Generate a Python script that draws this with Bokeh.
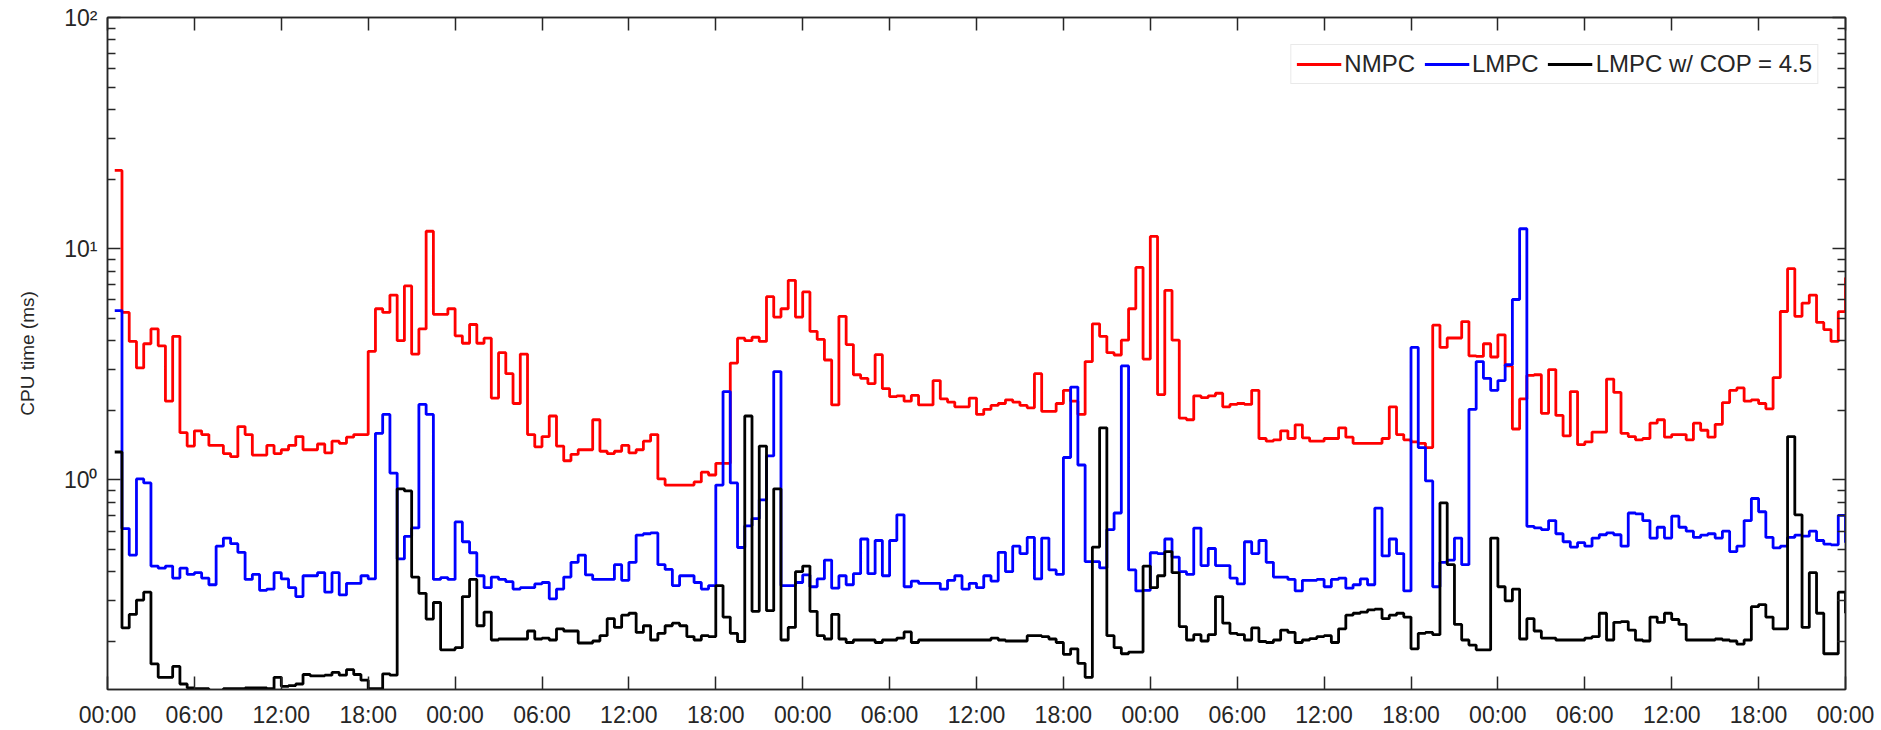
from bokeh.plotting import figure
from bokeh.models import FixedTicker, LogAxis, LinearAxis, Legend, LegendItem
from bokeh.embed import file_html
from bokeh.resources import INLINE

# ---- data: half-hour samples over five days ----
hours = [0.5 * k for k in range(1, 241)]

nmpc = [21.8, 5.3, 3.97, 3.05, 3.88, 4.5, 3.8, 2.19, 4.18, 1.6,
        1.40, 1.63, 1.57, 1.41, 1.41, 1.30, 1.26, 1.70, 1.57, 1.28,
        1.28, 1.41, 1.30, 1.35, 1.41, 1.54, 1.35, 1.35, 1.43, 1.31,
        1.47, 1.44, 1.53, 1.57, 1.57, 3.6, 5.5, 5.3, 6.3, 4.0,
        6.9, 3.5, 4.5, 11.9, 5.2, 5.2, 5.5, 4.2, 3.9, 4.7,
        3.9, 4.1, 2.26, 3.55, 2.88, 2.14, 3.5, 1.57, 1.39, 1.54,
        1.89, 1.40, 1.21, 1.29, 1.35, 1.35, 1.82, 1.33, 1.30, 1.33,
        1.41, 1.31, 1.35, 1.47, 1.57, 1.01, 0.95, 0.95, 0.95, 0.95,
        0.98, 1.08, 1.05, 1.18, 1.18, 3.2, 4.1, 4.0, 4.14, 3.97,
        6.2, 5.06, 5.5, 7.3, 5.06, 6.5, 4.39, 4.05, 3.3, 2.11,
        5.1, 3.85, 2.85, 2.75, 2.61, 3.48, 2.48, 2.29, 2.31, 2.19,
        2.32, 2.11, 2.11, 2.69, 2.24, 2.17, 2.07, 2.07, 2.26, 1.92,
        2.02, 2.1, 2.14, 2.22, 2.17, 2.1, 2.05, 2.88, 1.98, 1.98,
        2.14, 2.44, 2.19, 1.92, 3.25, 4.73, 4.18, 3.55, 3.47, 4.02,
        5.5, 8.3, 3.33, 11.3, 2.34, 6.6, 4.02, 1.85, 1.82, 2.31,
        2.27, 2.31, 2.37, 2.07, 2.12, 2.14, 2.12, 2.44, 1.51, 1.47,
        1.49, 1.63, 1.51, 1.73, 1.52, 1.47, 1.47, 1.51, 1.51, 1.68,
        1.53, 1.44, 1.44, 1.44, 1.44, 1.51, 2.07, 1.57, 1.49, 1.46,
        1.44, 1.38, 4.67, 3.74, 4.11, 4.11, 4.84, 3.44, 3.42, 3.88,
        3.4, 4.24, 3.11, 1.66, 2.24, 2.83, 2.85, 1.94, 3.0, 1.9,
        1.55, 2.41, 1.42, 1.46, 1.61, 1.61, 2.73, 2.39, 1.59, 1.54,
        1.49, 1.51, 1.76, 1.82, 1.53, 1.57, 1.57, 1.49, 1.76, 1.64,
        1.53, 1.74, 2.16, 2.44, 2.5, 2.19, 2.22, 2.14, 2.03, 2.77,
        5.35, 8.2, 5.1, 5.82, 6.3, 4.8, 4.47, 3.97, 5.34, 7.5]

lmpc = [5.4, 0.616, 0.473, 1.01, 0.97, 0.424, 0.415, 0.424, 0.376, 0.415,
        0.39, 0.397, 0.376, 0.352, 0.517, 0.56, 0.53, 0.486, 0.371, 0.39,
        0.333, 0.337, 0.397, 0.373, 0.342, 0.313, 0.385, 0.385, 0.397, 0.327,
        0.397, 0.318, 0.357, 0.357, 0.385, 0.373, 1.59, 1.92, 1.07, 0.455,
        0.57, 0.62, 2.12, 1.92, 0.371, 0.378, 0.371, 0.658, 0.54, 0.484,
        0.385, 0.342, 0.38, 0.371, 0.363, 0.337, 0.342, 0.342, 0.355, 0.36,
        0.306, 0.337, 0.38, 0.44, 0.473, 0.388, 0.371, 0.371, 0.371, 0.43,
        0.368, 0.44, 0.577, 0.585, 0.59, 0.43, 0.41, 0.349, 0.385, 0.385,
        0.36, 0.337, 0.349, 0.95, 2.41, 0.97, 0.51, 0.633, 0.68, 0.82,
        1.27, 2.94, 0.349, 0.349, 0.36, 0.388, 0.345, 0.373, 0.45, 0.34,
        0.385, 0.352, 0.393, 0.555, 0.393, 0.547, 0.385, 0.547, 0.706, 0.345,
        0.365, 0.357, 0.357, 0.357, 0.337, 0.368, 0.385, 0.337, 0.357, 0.342,
        0.385, 0.365, 0.486, 0.401, 0.517, 0.48, 0.564, 0.373, 0.56, 0.408,
        0.39, 1.25, 2.52, 1.16, 0.443, 0.443, 0.416, 0.61, 0.719, 3.11,
        0.408, 0.331, 0.333, 0.484, 0.48, 0.555, 0.463, 0.401, 0.39, 0.619,
        0.426, 0.505, 0.426, 0.426, 0.376, 0.355, 0.54, 0.48, 0.547, 0.44,
        0.38, 0.38, 0.371, 0.331, 0.368, 0.368, 0.371, 0.345, 0.371, 0.376,
        0.34, 0.352, 0.373, 0.352, 0.755, 0.469, 0.555, 0.48, 0.331, 3.74,
        1.38, 0.99, 0.345, 0.44, 0.45, 0.56, 0.43, 2.02, 3.25, 2.75,
        2.44, 2.69, 3.15, 6.03, 12.2, 0.63, 0.62, 0.61, 0.667, 0.585,
        0.54, 0.512, 0.535, 0.517, 0.56, 0.579, 0.59, 0.579, 0.517, 0.719,
        0.713, 0.667, 0.56, 0.624, 0.56, 0.697, 0.624, 0.6, 0.564, 0.577,
        0.585, 0.56, 0.6, 0.49, 0.517, 0.667, 0.831, 0.728, 0.564, 0.508,
        0.517, 0.564, 0.577, 0.571, 0.6, 0.547, 0.528, 0.524, 0.703, 0.535]

lmpc_cop = [1.32, 0.229, 0.262, 0.302, 0.327, 0.160, 0.140, 0.140, 0.156, 0.131,
            0.126, 0.125, 0.125, 0.123, 0.123, 0.125, 0.125, 0.125, 0.126, 0.126,
            0.126, 0.125, 0.140, 0.128, 0.129, 0.131, 0.144, 0.142, 0.142, 0.143,
            0.147, 0.143, 0.151, 0.144, 0.136, 0.125, 0.125, 0.145, 0.143, 0.915,
            0.896, 0.38, 0.323, 0.25, 0.295, 0.184, 0.184, 0.188, 0.313, 0.371,
            0.234, 0.268, 0.203, 0.205, 0.205, 0.205, 0.205, 0.222, 0.205, 0.207,
            0.203, 0.227, 0.222, 0.222, 0.197, 0.197, 0.201, 0.212, 0.251, 0.23,
            0.26, 0.265, 0.219, 0.234, 0.203, 0.217, 0.234, 0.24, 0.234, 0.21,
            0.203, 0.212, 0.21, 0.349, 0.255, 0.217, 0.2, 1.89, 0.27, 1.40,
            0.272, 0.915, 0.203, 0.23, 0.401, 0.424, 0.27, 0.212, 0.205, 0.262,
            0.205, 0.198, 0.203, 0.203, 0.203, 0.198, 0.203, 0.203, 0.207, 0.22,
            0.198, 0.203, 0.203, 0.203, 0.203, 0.203, 0.203, 0.203, 0.203, 0.203,
            0.203, 0.207, 0.203, 0.201, 0.201, 0.201, 0.212, 0.212, 0.21, 0.205,
            0.198, 0.176, 0.186, 0.161, 0.14, 0.512, 1.68, 0.212, 0.188, 0.177,
            0.18, 0.18, 0.424, 0.342, 0.385, 0.49, 0.397, 0.232, 0.203, 0.214,
            0.201, 0.214, 0.313, 0.24, 0.217, 0.214, 0.203, 0.229, 0.2, 0.198,
            0.203, 0.224, 0.219, 0.198, 0.203, 0.206, 0.21, 0.212, 0.198, 0.227,
            0.26, 0.265, 0.268, 0.274, 0.276, 0.251, 0.26, 0.265, 0.255, 0.186,
            0.217, 0.219, 0.214, 0.795, 0.43, 0.237, 0.203, 0.193, 0.184, 0.184,
            0.56, 0.345, 0.3, 0.337, 0.205, 0.251, 0.222, 0.207, 0.207, 0.203,
            0.203, 0.203, 0.203, 0.207, 0.21, 0.265, 0.203, 0.242, 0.244, 0.224,
            0.203, 0.201, 0.255, 0.242, 0.265, 0.249, 0.237, 0.203, 0.203, 0.203,
            0.203, 0.205, 0.203, 0.201, 0.195, 0.203, 0.283, 0.289, 0.255, 0.227,
            0.227, 1.54, 0.706, 0.23, 0.397, 0.265, 0.177, 0.177, 0.327, 0.265]

series_names = ["NMPC", "LMPC", "LMPC w/ COP = 4.5"]
series_colors = ["#ff0000", "#0000ff", "#000000"]

x_tick_hours = [6 * k for k in range(21)]
x_tick_labels = ["00:00", "06:00", "12:00", "18:00"] * 5 + ["00:00"]

y_major_ticks = [1, 10, 100]
y_major_labels = ["10\u2070", "10\u00b9", "10\u00b2"]
y_minor_ticks = [0.2, 0.3, 0.4, 0.5, 0.6, 0.7, 0.8, 0.9,
                 2, 3, 4, 5, 6, 7, 8, 9,
                 20, 30, 40, 50, 60, 70, 80, 90]

FONT = "Liberation Sans"
TXT = "#262626"
AX = "#262626"

p = figure(width=1878, height=730,
           x_range=(0, 120), y_range=(0.124, 100), y_axis_type="log",
           output_backend="svg", toolbar_location=None,
           min_border_left=107, min_border_top=17, min_border_right=33,
           min_border_bottom=39)
p.background_fill_color = "white"
p.border_fill_color = "white"
p.outline_line_color = AX
p.outline_line_width = 1.5
p.xgrid.visible = False
p.ygrid.visible = False

xt = FixedTicker(ticks=x_tick_hours)
yt = FixedTicker(ticks=y_major_ticks, minor_ticks=y_minor_ticks)

xa = p.xaxis[0]
xa.ticker = xt
xa.major_label_overrides = dict(zip(x_tick_hours, x_tick_labels))
ya = p.yaxis[0]
ya.ticker = yt
ya.major_label_overrides = dict(zip(y_major_ticks, y_major_labels))
ya.axis_label = "CPU time (ms)"

for ax in (xa, ya):
    ax.axis_line_color = AX
    ax.axis_line_width = 1.5
    ax.major_tick_line_color = AX
    ax.major_tick_line_width = 1.5
    ax.minor_tick_line_color = AX
    ax.minor_tick_line_width = 1.5
    ax.major_tick_out = 0
    ax.major_tick_in = 13
    ax.minor_tick_out = 0
    ax.major_label_text_font = FONT
    ax.major_label_text_font_size = "23px"
    ax.major_label_text_color = TXT
    ax.axis_label_text_font = FONT
    ax.axis_label_text_font_size = "19px"
    ax.axis_label_text_font_style = "normal"
    ax.axis_label_text_color = TXT
xa.minor_tick_in = 0
ya.minor_tick_in = 8
xa.major_label_standoff = 12
ya.major_label_standoff = 10
ya.axis_label_standoff = 23

# frame ticks on the top and right sides (no labels)
top = LinearAxis(ticker=xt, major_label_overrides={t: "" for t in x_tick_hours},
                 major_label_standoff=0,
                 major_tick_in=13, major_tick_out=0, minor_tick_in=0, minor_tick_out=0,
                 axis_line_color=AX, axis_line_width=1.5,
                 major_tick_line_color=AX, major_tick_line_width=1.5)
right = LogAxis(ticker=yt, major_label_overrides={t: "" for t in y_major_ticks},
                major_label_standoff=0,
                major_tick_in=13, major_tick_out=0, minor_tick_in=8, minor_tick_out=0,
                axis_line_color=AX, axis_line_width=1.5,
                major_tick_line_color=AX, major_tick_line_width=1.5,
                minor_tick_line_color=AX, minor_tick_line_width=1.5)
p.add_layout(top, "above")
p.add_layout(right, "right")

items = []
for name, col, vals in zip(series_names, series_colors, [nmpc, lmpc, lmpc_cop]):
    r = p.step(hours, vals, mode="after", line_color=col, line_width=2.8)
    items.append(LegendItem(label=name, renderers=[r]))

legend = Legend(items=items, location="top_right", orientation="horizontal",
                margin=27, padding=5, spacing=9, label_standoff=3,
                glyph_width=45,
                label_text_font=FONT, label_text_font_size="24px", label_text_color=TXT,
                border_line_color="#d4d4d4", border_line_width=1.5,
                background_fill_color="white", background_fill_alpha=1.0)
p.add_layout(legend)

open("out.html", "w").write(file_html(p, INLINE))
